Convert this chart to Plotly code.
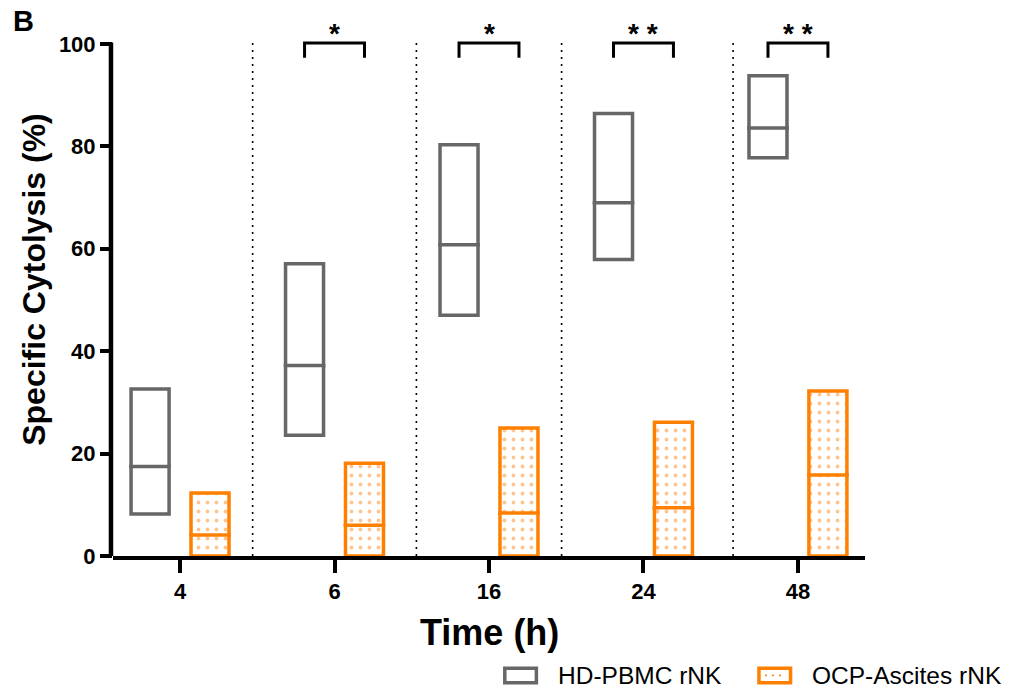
import plotly.graph_objects as go

# ---- data ----
times = ['4', '6', '16', '24', '48']
hd_min = [8.2, 23.6, 47.0, 57.9, 77.8]
hd_max = [32.6, 57.1, 80.3, 86.4, 93.8]
hd_med = [17.5, 37.2, 60.8, 69.0, 83.6]
ocp_min = [0, 0, 0, 0, 0]
ocp_max = [12.3, 18.1, 25.0, 26.1, 32.2]
ocp_med = [4.1, 6.0, 8.4, 9.4, 15.8]
significance = ['', '*', '*', '**', '**']
separators = [0.47, 1.53, 2.47, 3.58]
y_ticks = [0, 20, 40, 60, 80, 100]

GRAY = '#676767'
ORANGE = '#FF8000'
FONT = 'Liberation Sans, Arial, sans-serif'

pos = list(range(len(times)))
BW = 0.246
OFF = 0.194

fig = go.Figure()

fig.add_trace(go.Bar(
    x=pos, y=[a - b for a, b in zip(hd_max, hd_min)], base=hd_min,
    width=BW, offset=-OFF - BW / 2,
    marker=dict(color='white', line=dict(color=GRAY, width=3.5)),
    name='HD-PBMC rNK', showlegend=False))

fig.add_trace(go.Bar(
    x=pos, y=[a - b for a, b in zip(ocp_max, ocp_min)], base=ocp_min,
    width=BW, offset=OFF - BW / 2,
    marker=dict(color='white', line=dict(color=ORANGE, width=3.5),
                pattern=dict(shape='.', fgcolor='#FF8A20', bgcolor='white',
                             size=9, solidity=0.14)),
    name='OCP-Ascites rNK', showlegend=False))

# median lines
half = BW / 2 + 0.012
for meds, sgn, col in [(hd_med, -1, GRAY), (ocp_med, 1, ORANGE)]:
    xs, ys = [], []
    for p, m in zip(pos, meds):
        c = p + sgn * OFF
        xs += [c - half, c + half, None]
        ys += [m, m, None]
    fig.add_trace(go.Scatter(x=xs, y=ys, mode='lines',
                             line=dict(color=col, width=3.5),
                             showlegend=False, hoverinfo='skip'))

# significance brackets
bx, by = [], []
for p, s in zip(pos, significance):
    if s:
        bx += [p - OFF, p - OFF, p + OFF, p + OFF, None]
        by += [97.3, 100.2, 100.2, 97.3, None]
fig.add_trace(go.Scatter(x=bx, y=by, mode='lines',
                         line=dict(color='black', width=3),
                         showlegend=False, hoverinfo='skip'))

annotations = []
for p, s in zip(pos, significance):
    if s:
        annotations.append(dict(x=p, y=102.0, xref='x', yref='y',
                                text=' '.join(s), showarrow=False,
                                font=dict(family=FONT, size=28, color='black', weight='bold'),
                                xanchor='center', yanchor='middle'))

shapes = []
for sx in separators:
    shapes.append(dict(type='line', xref='x', yref='y', x0=sx, x1=sx, y0=0, y1=100.8,
                       line=dict(color='black', width=1.6, dash='2px,5px')))
# y axis line (0..100 only)
shapes.append(dict(type='line', xref='paper', yref='y', x0=-0.0027, x1=-0.0027,
                   y0=-0.5, y1=100.3, line=dict(color='black', width=4.5)))

# manual legend
legend_items = [('HD-PBMC rNK', GRAY, 0.521, False), ('OCP-Ascites rNK', ORANGE, 0.859, True)]
for label, col, lx, dotted in legend_items:
    shapes.append(dict(type='rect', xref='paper', yref='paper',
                       x0=lx, x1=lx + 0.042, y0=-0.229, y1=-0.203,
                       line=dict(color=col, width=3.5), fillcolor='white'))
    if dotted:
        shapes.append(dict(type='line', xref='paper', yref='paper',
                           x0=lx + 0.008, x1=lx + 0.036, y0=-0.216, y1=-0.216,
                           line=dict(color='#FF8A20', width=1.8, dash='2px,5px')))
    annotations.append(dict(x=lx + 0.068, y=-0.216, xref='paper', yref='paper',
                            text=label, showarrow=False, xanchor='left', yanchor='middle',
                            font=dict(family=FONT, size=24.5, color='black')))

# titles
annotations.append(dict(x=-0.106, y=0.5, xref='paper', yref='paper',
                        text='Specific Cytolysis (%)', textangle=-90, showarrow=False,
                        xanchor='center', yanchor='middle',
                        font=dict(family=FONT, size=32, color='black', weight='bold')))
annotations.append(dict(x=0.5, y=-0.138, xref='paper', yref='paper',
                        text='Time (h)', showarrow=False,
                        xanchor='center', yanchor='middle',
                        font=dict(family=FONT, size=36, color='black', weight='bold')))
annotations.append(dict(x=-0.135, y=1.0, xref='paper', yref='paper',
                        text='B', showarrow=False, xanchor='left', yanchor='top',
                        font=dict(family=FONT, size=29, color='black', weight='bold')))

fig.update_layout(
    width=1017, height=691,
    margin=dict(l=113, r=152, t=3, b=135),
    plot_bgcolor='white', paper_bgcolor='white',
    showlegend=False,
    barmode='overlay',
    shapes=shapes, annotations=annotations,
    xaxis=dict(range=[-0.434, 4.434], tickvals=pos, ticktext=times,
               showline=True, linecolor='black', linewidth=4,
               ticks='outside', ticklen=13, tickwidth=3.5, tickcolor='black',
               showgrid=False, zeroline=False,
               tickfont=dict(family=FONT, size=22, color='black', weight='bold')),
    yaxis=dict(range=[0, 108], tickvals=y_ticks,
               showline=False, ticks='outside', ticklen=12, tickwidth=3.5, tickcolor='black',
               showgrid=False, zeroline=False,
               tickfont=dict(family=FONT, size=22, color='black', weight='bold')),
)

fig.write_html('out.html')
